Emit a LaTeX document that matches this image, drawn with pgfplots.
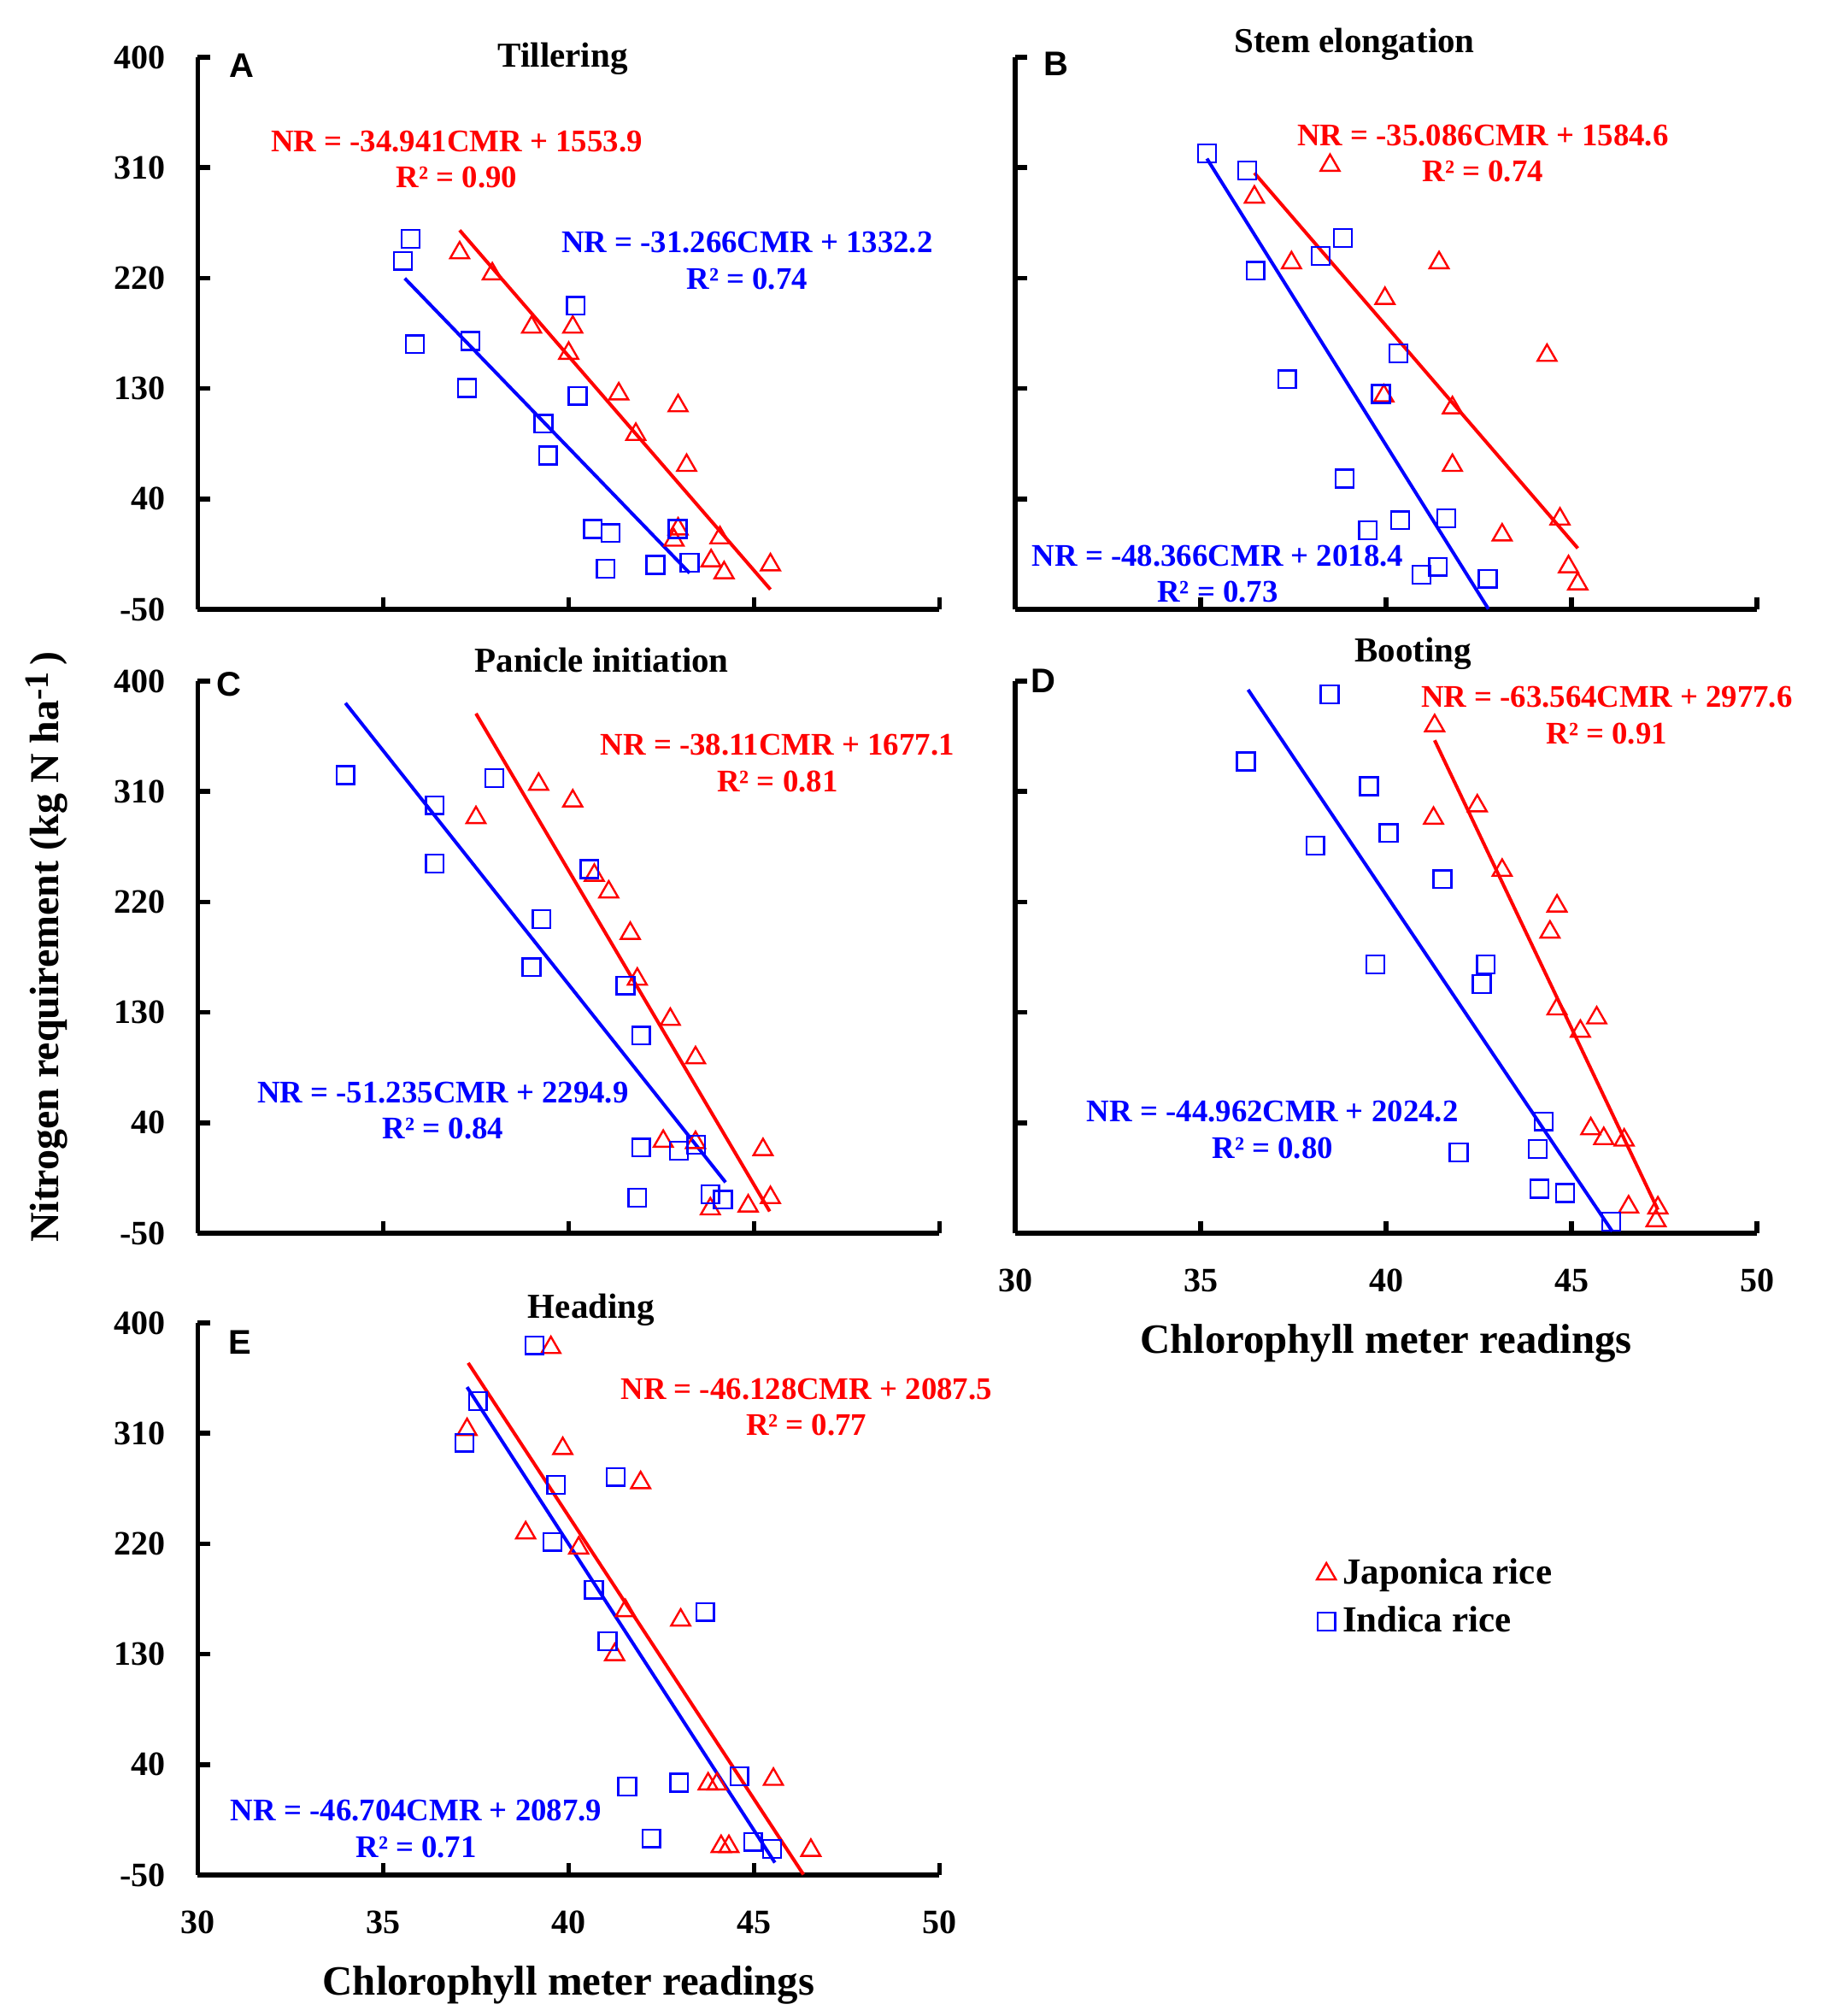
\documentclass[border=0pt]{standalone}
\usepackage{pgfplots}
\pgfplotsset{compat=1.18}
\usepackage{fontspec}
\setmainfont{Liberation Serif}
\newfontfamily\sansfont{Liberation Sans}
\newcommand{\tk}{\fontsize{10pt}{12pt}\selectfont\bfseries}
\newcommand{\eq}{\fontsize{9.2pt}{10.6pt}\selectfont\bfseries}
\newcommand{\ttl}{\fontsize{10.25pt}{12pt}\selectfont\bfseries}
\newcommand{\lbl}{\fontsize{12.2pt}{14pt}\selectfont\bfseries}
\newcommand{\ylbl}{\fontsize{12pt}{14pt}\selectfont\bfseries}
\newcommand{\lgd}{\fontsize{10.75pt}{13pt}\selectfont\bfseries}
\newcommand{\pl}{\sansfont\bfseries\fontsize{10pt}{12pt}\selectfont}
\pgfplotsset{
  panel/.style={
    scale only axis, width=217pt, height=161.5pt,
    xmin=30, xmax=50, ymin=-50, ymax=400,
    axis lines=left,
    axis line style={-, line width=1.4pt, black},
    every outer x axis line/.append style={-},
    every outer y axis line/.append style={-},
    xtick={30,35,40,45,50}, ytick={-50,40,130,220,310,400},
    tick align=inside, major tick length=3.5pt,
    tick style={line width=1.4pt, black},
    xticklabels={}, yticklabels={},
    clip=false,
    ticklabel style={font=\tk},
  },
  ylab/.style={yticklabels={-50,40,130,220,310,400}, yticklabel style={xshift=-6pt}},
  xlab/.style={xticklabels={30,35,40,45,50}, xticklabel style={yshift=-7pt},
     xlabel={Chlorophyll meter readings},
     xlabel style={font=\lbl, at={(0.5,-0.2)}, anchor=center}},
  jap/.style={only marks, mark=triangle, mark size=3.2pt, color=red,
     mark options={line width=0.6pt, fill=none},
     legend image code/.code={\draw[##1] plot coordinates {(0pt,0pt)};}},
  ind/.style={only marks, mark=square, mark size=2.6pt, color=blue,
     mark options={line width=0.6pt, fill=none},
     legend image code/.code={\draw[##1] plot coordinates {(0pt,0pt)};}},
  fitr/.style={red, line width=1pt, no marks, forget plot},
  fitb/.style={blue, line width=1pt, no marks, forget plot},
}
\begin{document}
\begin{tikzpicture}
\useasboundingbox (0,0) rectangle (532.75pt,-589.75pt);

% ---------- A: Tillering ----------
\begin{axis}[panel, ylab, at={(57.875pt,-178.25pt)}, anchor=south west]
\addplot[jap] coordinates {
(37.06,240.6)(37.94,223.4)(39.0,180.0)(40.11,180.0)(40.0,158.7)
(41.35,125.6)(42.95,115.9)(41.81,92.6)(43.18,67.3)(42.95,15.5)
(42.84,6.4)(44.08,8.3)(43.84,-10.4)(44.19,-20.2)(45.44,-13.7)};
\addplot[ind] coordinates {
(35.74,252.0)(35.53,234.1)(35.85,166.1)(37.35,168.7)(37.26,130.5)
(40.19,197.5)(40.24,124.0)(39.32,101.3)(39.44,75.4)(40.65,15.5)
(41.13,12.2)(42.94,15.5)(41.0,-16.9)(42.34,-13.7)(43.26,-12.1)};
\addplot[fitr] coordinates {(37.06,259.0)(45.44,-33.8)};
\addplot[fitb] coordinates {(35.58,219.8)(43.26,-20.4)};
\node[font=\ttl] at (axis cs:39.84,399) {Tillering};
\node[font=\pl] at (axis cs:31.18,392.9) {A};
\node[red, font=\eq, align=center] at (axis cs:36.98,316.7) {NR = -34.941CMR + 1553.9\\R² = 0.90};
\node[blue, font=\eq, align=center] at (axis cs:44.81,234.1) {NR = -31.266CMR + 1332.2\\R² = 0.74};
\end{axis}

% ---------- B: Stem elongation ----------
\begin{axis}[panel, at={(297pt,-178.25pt)}, anchor=south west]
\addplot[jap] coordinates {
(38.49,311.9)(36.45,286.0)(37.45,232.5)(41.43,232.5)(39.97,203.4)
(44.34,157.0)(39.94,124.0)(41.79,114.3)(41.79,67.3)(44.69,23.6)
(43.13,10.6)(44.92,-15.3)(45.17,-29.2)};
\addplot[ind] coordinates {
(35.17,321.6)(36.26,307.7)(36.48,226.0)(38.24,238.0)(38.84,252.6)
(40.33,158.7)(37.33,137.6)(39.86,125.6)(38.88,56.6)(39.51,14.5)
(40.38,22.6)(41.62,24.2)(40.96,-21.8)(41.40,-15.3)(42.74,-25.0)};
\addplot[fitr] coordinates {(36.45,305.7)(45.17,-0.2)};
\addplot[fitb] coordinates {(35.17,317.4)(42.76,-49.7)};
\node[font=\ttl] at (axis cs:39.15,410.7) {Stem elongation};
\node[font=\pl] at (axis cs:31.1,394.5) {B};
\node[red, font=\eq, align=center] at (axis cs:42.61,321.6) {NR = -35.086CMR + 1584.6\\R² = 0.74};
\node[blue, font=\eq, align=center] at (axis cs:35.46,-21.0) {NR = -48.366CMR + 2018.4\\R² = 0.73};
\end{axis}

% ---------- C: Panicle initiation ----------
\begin{axis}[panel, ylab, at={(57.875pt,-360.75pt)}, anchor=south west]
\addplot[jap] coordinates {
(37.50,288.7)(39.19,315.9)(40.11,302.3)(40.69,241.7)(41.08,228.1)
(41.66,194.4)(41.85,157.0)(42.74,124.3)(43.42,93.0)(42.55,24.9)
(43.42,23.9)(45.24,18.1)(45.44,-21.0)(44.84,-27.8)(43.82,-30.2)};
\addplot[ind] coordinates {
(33.98,323.4)(38.0,321.0)(36.39,298.9)(36.39,251.3)(39.27,206.0)
(39.0,166.8)(40.56,246.8)(41.53,151.9)(41.95,111.0)(41.95,19.8)
(42.97,17.1)(43.44,22.2)(41.85,-21.0)(43.82,-18.3)(44.16,-22.7)};
\addplot[fitr] coordinates {(37.5,373.6)(45.42,-32.2)};
\addplot[fitb] coordinates {(33.98,382.1)(44.23,-8.5)};
\node[font=\ttl] at (axis cs:40.89,417.4) {Panicle initiation};
\node[font=\pl] at (axis cs:30.84,397.6) {C};
\node[red, font=\eq, align=center] at (axis cs:45.63,333.0) {NR = -38.11CMR + 1677.1\\R² = 0.81};
\node[blue, font=\eq, align=center] at (axis cs:36.61,50.0) {NR = -51.235CMR + 2294.9\\R² = 0.84};
\end{axis}

% ---------- D: Booting ----------
\begin{axis}[panel, xlab, at={(297pt,-360.75pt)}, anchor=south west]
\addplot[jap] coordinates {
(41.31,363.6)(41.28,288.2)(42.46,298.3)(43.13,245.8)(44.61,216.7)
(44.42,195.4)(44.61,132.8)(45.68,125.5)(45.24,114.6)(45.52,35.1)
(45.87,27.1)(46.42,25.9)(46.54,-28.6)(47.33,-29.4)(47.28,-39.9)};
\addplot[ind] coordinates {
(38.48,389.1)(36.22,334.6)(39.54,314.4)(38.09,266.0)(40.07,276.1)
(41.52,238.5)(39.71,169.1)(42.69,169.1)(42.58,153.0)(44.25,41.2)
(44.09,18.6)(41.96,15.8)(44.14,-13.7)(44.83,-17.3)(46.07,-40.7)};
\addplot[fitr] coordinates {(41.31,351.8)(47.33,-30.9)};
\addplot[fitb] coordinates {(36.28,393.0)(46.10,-48.5)};
\node[font=\ttl] at (axis cs:40.73,422.6) {Booting};
\node[font=\pl] at (axis cs:30.75,400) {D};
\node[red, font=\eq, align=center] at (axis cs:45.95,372.0) {NR = -63.564CMR + 2977.6\\R² = 0.91};
\node[blue, font=\eq, align=center] at (axis cs:36.94,34.2) {NR = -44.962CMR + 2024.2\\R² = 0.80};
\end{axis}

% ---------- E: Heading ----------
\begin{axis}[panel, ylab, xlab, at={(57.875pt,-548.5pt)}, anchor=south west,
  legend style={draw=none, fill=none, font=\lgd, at={(1.494,0.502)}, anchor=west,
     legend cell align=left, row sep=1pt}]
\addplot[jap] coordinates {
(39.52,379.9)(37.26,313.1)(39.84,297.6)(41.94,269.8)(38.84,228.9)
(40.27,216.5)(41.53,165.5)(43.02,157.8)(41.24,129.6)(43.76,24.2)
(44.0,24.2)(45.52,28.0)(44.11,-26.8)(44.32,-26.8)(46.53,-29.9)};
\addlegendentry{Japonica rice}
\addplot[ind] coordinates {
(39.08,381.8)(37.55,336.3)(37.19,302.3)(41.27,274.5)(39.66,267.9)
(39.56,221.6)(40.68,182.5)(43.68,164.4)(41.05,140.4)(44.6,30.4)
(42.98,25.3)(41.58,22.2)(42.23,-20.2)(44.97,-23.0)(45.48,-28.7)};
\addlegendentry{Indica rice}
\addplot[fitr] coordinates {(37.29,367.4)(46.33,-49.6)};
\addplot[fitb] coordinates {(37.26,347.7)(45.56,-39.9)};
\node[font=\ttl] at (axis cs:40.61,410.4) {Heading};
\node[font=\pl] at (axis cs:31.13,384.5) {E};
\node[red, font=\eq, align=center] at (axis cs:46.41,331.5) {NR = -46.128CMR + 2087.5\\R² = 0.77};
\node[blue, font=\eq, align=center] at (axis cs:35.89,-12.3) {NR = -46.704CMR + 2087.9\\R² = 0.71};
\end{axis}

\node[rotate=90, font=\ylbl] at (13.75pt,-277pt) {Nitrogen requirement (kg N ha\raisebox{0.55ex}{\fontsize{10pt}{12pt}\selectfont -1}\,)};
\end{tikzpicture}
\end{document}
